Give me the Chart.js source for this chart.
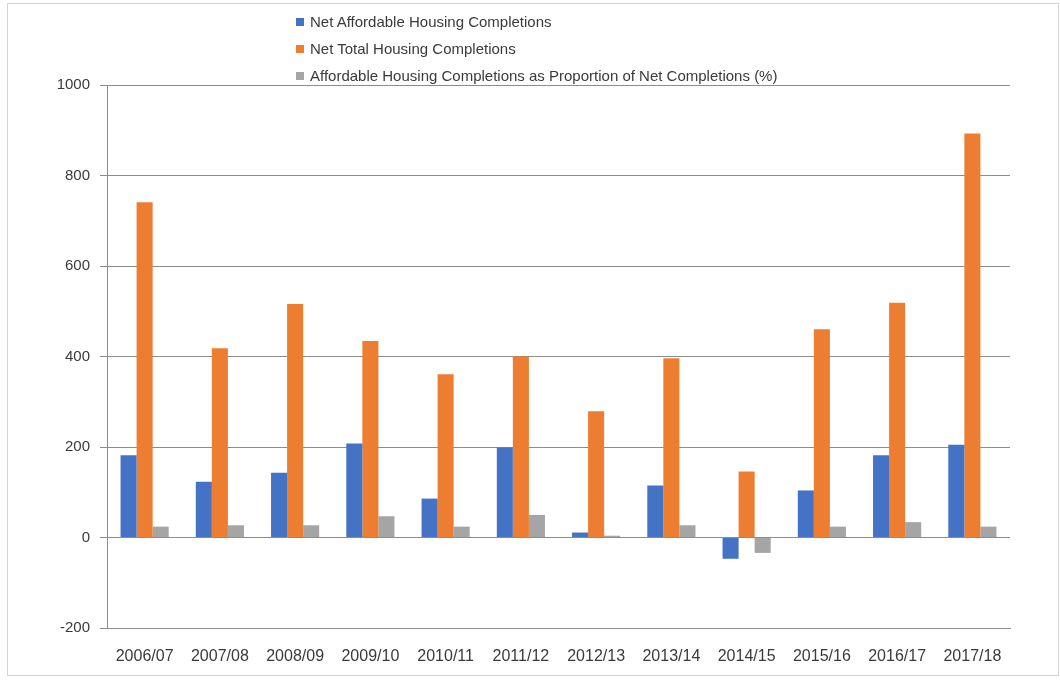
<!DOCTYPE html>
<html>
<head>
<meta charset="utf-8">
<script src="https://cdn.jsdelivr.net/npm/chart.js@4/dist/chart.umd.min.js"></script>
<style>
  html, body { margin: 0; padding: 0; background: #ffffff; }
  #wrap { position: relative; width: 1060px; height: 684px; }
  #legend { position: absolute; left: 296px; top: 8px; font-family: "Liberation Sans", Arial, sans-serif; font-size: 15px; color: #3a3a3a; }
  #legend .item { height: 27px; line-height: 27px; display: flex; align-items: center; white-space: nowrap; }
  #legend .box { width: 8px; height: 8px; margin-right: 6px; display: inline-block; }
</style>
</head>
<body>
<div id="wrap">
  <canvas id="c" width="1060" height="684"></canvas>
  <div id="legend"></div>
</div>
<script>
const years = ['2006/07','2007/08','2008/09','2009/10','2010/11','2011/12','2012/13','2013/14','2014/15','2015/16','2016/17','2017/18'];
const netAffordable = [182, 123, 143, 208, 86, 199, 11, 115, -47, 104, 182, 205];
const netTotal = [741, 418, 516, 434, 361, 400, 279, 396, 146, 460, 519, 893];
const affordableShare = [24, 27, 27, 47, 24, 50, 4, 27, -34, 24, 34, 24];
const yTicks = [-200, 0, 200, 400, 600, 800, 1000];

const seriesNames = [
  'Net Affordable Housing Completions',
  'Net Total Housing Completions',
  'Affordable Housing Completions as Proportion of Net Completions (%)'
];
const seriesColors = ['#4472C4', '#ED7D31', '#A5A5A5'];
const gridColor = '#8c8c8c';
const fontFamily = '"Liberation Sans", Arial, sans-serif';

// light frame around the whole chart
const framePlugin = {
  id: 'frame',
  beforeDraw(chart) {
    const ctx = chart.ctx;
    ctx.save();
    ctx.fillStyle = '#ffffff';
    ctx.fillRect(0, 0, chart.width, chart.height);
    ctx.strokeStyle = '#d4d4d4';
    ctx.lineWidth = 1;
    ctx.strokeRect(7.5, 3.5, 1051, 672);
    ctx.restore();
  }
};

const chart = new Chart(document.getElementById('c'), {
  type: 'bar',
  data: {
    labels: years,
    datasets: [netAffordable, netTotal, affordableShare].map((d, i) => ({
      label: seriesNames[i],
      data: d,
      backgroundColor: seriesColors[i],
      borderWidth: 0,
      barPercentage: 1,
      categoryPercentage: 0.64
    }))
  },
  options: {
    responsive: false,
    animation: false,
    layout: { padding: { left: 0, right: 50, top: 85, bottom: 0 } },
    plugins: { legend: { display: false }, tooltip: { enabled: false } },
    scales: {
      x: {
        grid: { display: false, drawTicks: false },
        border: { display: true, color: gridColor },
        ticks: { font: { family: fontFamily, size: 16 }, color: '#3a3a3a', padding: 19, maxRotation: 0, autoSkip: false },
        afterFit(s) { s.height = 56; }
      },
      y: {
        min: -200,
        max: 1000,
        afterBuildTicks(s) { s.ticks = yTicks.map(v => ({ value: v })); },
        grid: { color: gridColor, tickLength: 7, tickColor: gridColor },
        border: { display: true, color: gridColor },
        ticks: { font: { family: fontFamily, size: 15 }, color: '#3a3a3a', padding: 10, callback: v => String(v) },
        afterFit(s) { s.width = 107; }
      }
    }
  },
  plugins: [framePlugin]
});

// legend, one entry per row
const legend = document.getElementById('legend');
chart.data.datasets.forEach(ds => {
  const row = document.createElement('div');
  row.className = 'item';
  const box = document.createElement('span');
  box.className = 'box';
  box.style.background = ds.backgroundColor;
  const txt = document.createElement('span');
  txt.textContent = ds.label;
  row.appendChild(box);
  row.appendChild(txt);
  legend.appendChild(row);
});
</script>
</body>
</html>
